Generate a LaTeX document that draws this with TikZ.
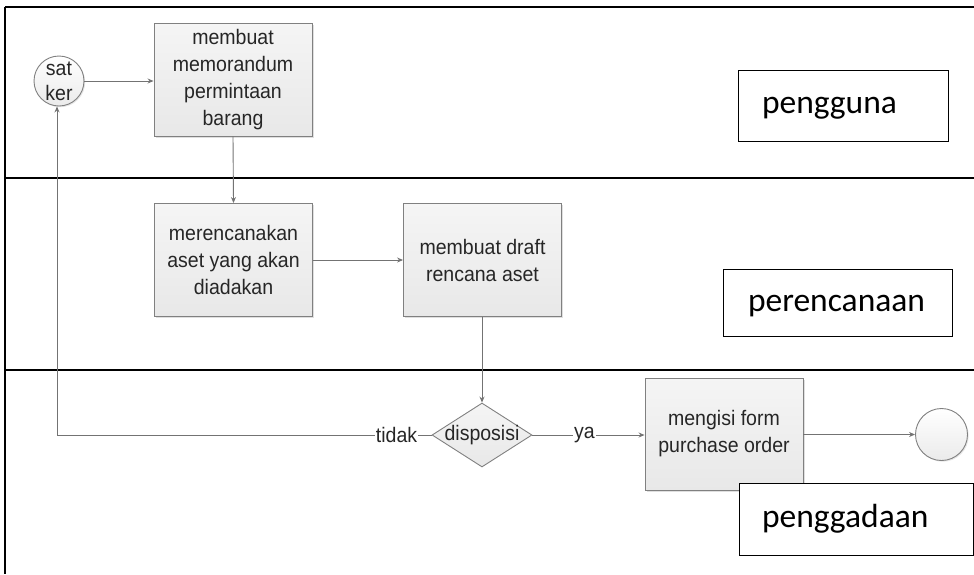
\documentclass[tikz,border=0pt]{standalone}
\usepackage{fontspec}
\setmainfont{Liberation Sans}
\newfontfamily\flowfont[FakeStretch=0.93]{Liberation Sans}
\newfontfamily\lanefont{Carlito}
\usetikzlibrary{arrows.meta,shapes.geometric,shadows}
\begin{document}
\begin{tikzpicture}[x=1pt,y=-1pt,
  lane/.style={line width=2pt,black},
  proc/.style={draw=black!50,line width=0.9pt,top color=white!96!black,bottom color=black!9,
    minimum width=158pt,minimum height=113pt,inner sep=0pt,align=center,
    font=\flowfont\fontsize{21}{27}\selectfont,text=black!85,
    drop shadow={opacity=0.25,shadow xshift=1.5pt,shadow yshift=-1.5pt}},
  evt/.style={circle,draw=black!50,line width=0.9pt,top color=white,bottom color=black!8,inner sep=0pt,
    drop shadow={opacity=0.2,shadow xshift=1.2pt,shadow yshift=-1.2pt}},
  flow/.style={draw=black!55,line width=0.9pt},
  arr/.style={flow,-{Stealth[length=6pt,width=5pt]}},
  edgelbl/.style={fill=white,inner sep=1pt,font=\flowfont\fontsize{21}{24}\selectfont,text=black!85},
  lanelbl/.style={draw=black,line width=1pt,fill=white,inner ysep=0pt,align=left,text depth=6pt,
    font=\lanefont\fontsize{33.5}{36}\selectfont}
]
\useasboundingbox (0,0) rectangle (974,574);
% swimlane frame
\draw[lane] (5,7) -- (974,7);
\draw[lane] (5,178) -- (974,178);
\draw[lane] (5,370) -- (974,370);
\draw[line width=1.5pt] (5,7) -- (5,574);

% lane labels
\node[lanelbl,inner xsep=24pt,text width=162pt,minimum height=71pt,text height=20pt] (lp) at (843,106) {pengguna};
\node[lanelbl,inner xsep=25pt,text width=179pt,minimum height=67pt,text height=24pt] (lr) at (837.5,302.5) {perencanaan};

% nodes
\node[evt,minimum size=50pt,font=\flowfont\fontsize{21}{25}\selectfont,align=center,text=black!85] (sat) at (59,81) {sat\\ker};
\node[proc] (b1) at (233,79.5) {membuat\\memorandum\\permintaan\\barang};
\node[proc] (b2) at (233.5,260) {merencanakan\\aset yang akan\\diadakan};
\node[proc] (b3) at (482.5,260) {membuat draft\\rencana aset};
\node[diamond,draw=black!50,line width=0.9pt,top color=white!96!black,bottom color=black!9,
  minimum width=100pt,minimum height=64pt,inner sep=0pt,
  label={[font=\flowfont\fontsize{21}{24}\selectfont,text=black!85]center:disposisi}] (d) at (482,435) {};
\node[proc,minimum height=112pt] (b4) at (724,434) {mengisi form\\purchase order};
\node[evt,minimum size=52pt] (end) at (941.5,434.5) {};

\node[lanelbl,inner xsep=23pt,text width=188pt,minimum height=72pt,text height=22pt] (lg) at (856,519) {penggadaan};

% edge labels
\node[edgelbl] (tdk) at (396.5,435) {tidak};
\node[edgelbl] (ya) at (584.5,435) {ya};
\coordinate (corner) at (57,435);

% connectors
\draw[arr] (sat.east) -- (b1.west |- sat.east);
\draw[arr] (b1.south) -- (b2.north);
\draw[arr] (b2.east) -- (b3.west);
\draw[arr] (b3.south -| d.north) -- (d.north);
\draw[flow] (d.west) -- (tdk.east);
\draw[arr] (tdk.west) -- (corner) -- (corner |- sat.south);
\draw[flow] (d.east) -- (ya.west);
\draw[arr] (ya.east) -- (b4.west |- ya.east);
\draw[arr] (b4.east |- end.west) -- (end.west);
\end{tikzpicture}
\end{document}
